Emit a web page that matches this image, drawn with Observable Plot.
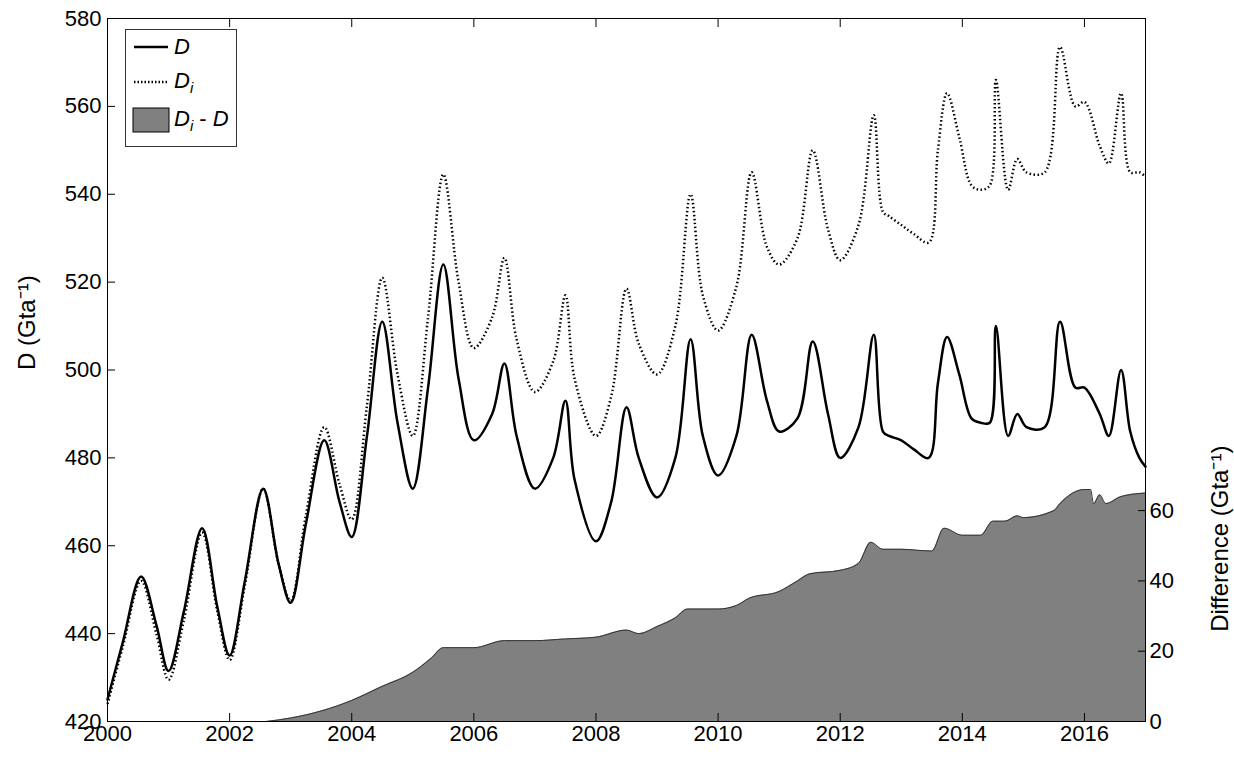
<!DOCTYPE html>
<html><head><meta charset="utf-8">
<script src="https://cdn.jsdelivr.net/npm/d3@7"></script>
<script src="https://cdn.jsdelivr.net/npm/@observablehq/plot@0.6"></script>
<style>
body{margin:0;background:#fff;font-family:"Liberation Sans",Arial,sans-serif}
#wrap{position:relative;width:1234px;height:764px}
#legend{position:absolute;left:125px;top:29px;width:110px;height:116px;border:1px solid #333;background:#fff;font-size:22px}
#legend .row{position:absolute;left:6px;display:flex;align-items:center}
</style></head><body>
<div id="wrap"><div id="chart"></div>
<div id="legend">
 <div class="row" style="top:4px"><svg width="38" height="20"><line x1="2" y1="10" x2="36" y2="10" stroke="#000" stroke-width="2.5"/></svg><i style="margin-left:4px">D</i></div>
 <div class="row" style="top:38px"><svg width="38" height="20"><line x1="2" y1="10" x2="36" y2="10" stroke="#000" stroke-width="2.5" stroke-dasharray="1.5,2"/></svg><i style="margin-left:4px">D<sub style="font-size:15px">i</sub></i></div>
 <div class="row" style="top:76px"><svg width="38" height="26"><rect x="1" y="1" width="36" height="24" fill="#808080" stroke="#000"/></svg><span style="margin-left:4px"><i>D<sub style="font-size:15px">i</sub></i> - <i>D</i></span></div>
</div></div>
<script>
const years = [2000,2000.25,2000.55,2000.8,2001,2001.25,2001.55,2001.8,2002,2002.25,2002.55,2002.8,2003,2003.25,2003.55,2003.8,2004,2004.25,2004.5,2004.75,2005,2005.25,2005.5,2005.75,2006,2006.3,2006.5,2006.7,2007,2007.3,2007.5,2007.65,2008,2008.25,2008.5,2008.7,2009,2009.3,2009.55,2009.75,2010,2010.3,2010.55,2010.8,2011,2011.3,2011.55,2011.8,2012,2012.3,2012.55,2012.7,2012.8,2013,2013.2,2013.45,2013.6,2013.75,2013.95,2014.15,2014.3,2014.45,2014.55,2014.75,2014.9,2015.05,2015.35,2015.6,2015.85,2016,2016.25,2016.4,2016.6,2016.75,2016.9,2017];
const dValues = [425,438,453,442,431.5,445,464,446,435,452,473,456,447,465,484,470,462,485,511,488,473,496,524,498,484,490,501.5,485,473,480,493,475,461,470,491.5,480,471,480,507,485,476,485,508,493,486,489,506.5,490,480,487,508,486,485,484,482,480,497,507.5,499,489,488,488,510,485,490,487,487,511,496,496,490,485,500,486,480,478];
const diValues = [424,437,452,440,429.5,443,463,445,434,451,473,456,447.5,467,487,474,466,492,521,499,485,512,544.5,520,505,512,525.5,507,495,502,517,498,485,494,518.5,506,499,510,540,517,509,519,545,528,524,530,550,532,525,533,558,536,535,533,531,529,550,563,553,542,541,542,566,541,548,545,545,573.5,560,561,551,547,563,545,545,544];
const diffYears = [2002.6,2003,2003.5,2004,2004.5,2005,2005.3,2005.5,2006,2006.5,2007,2007.5,2008,2008.5,2008.7,2009,2009.3,2009.5,2010,2010.3,2010.5,2011,2011.3,2011.5,2012,2012.3,2012.5,2012.7,2013,2013.5,2013.7,2014,2014.3,2014.5,2014.7,2014.9,2015,2015.5,2015.6,2016,2016.1,2016.15,2016.25,2016.35,2016.6,2017];
const diffValues = [0,1,3,6,10,14,18,21,21,23,23,23.5,24,26,25,27,29.5,32,32,33,35,37,40,42,43,45,51,49,49,48.5,55,53,53,57,57,58.5,58,60,62,66,66,62,64.5,62,64,65];
const xTicks = [2000,2002,2004,2006,2008,2010,2012,2014,2016];
const yTicks = [420,440,460,480,500,520,540,560,580];
const diffTicks = [0,20,40,60];

const toLeft = v => 420 + v * 0.8;
const series = years.map((t,i)=>({t, d:dValues[i], di:diValues[i]}));
const diff = diffYears.map((t,i)=>({t, v:toLeft(diffValues[i])}));

const chart = Plot.plot({
  width:1234, height:764,
  marginLeft:107, marginRight:89, marginTop:18, marginBottom:43,
  style:{fontFamily:"Liberation Sans, Arial, sans-serif", fontSize:"22px", color:"#000"},
  x:{domain:[2000,2017]},
  y:{domain:[420,580]},
  marks:[
    Plot.areaY(diff,{x:"t", y1:420, y2:"v", fill:"#808080", curve:"monotone-x"}),
    Plot.line(diff,{x:"t", y:"v", stroke:"#333", strokeWidth:1, curve:"monotone-x"}),
    Plot.line(series,{x:"t", y:"di", stroke:"#000", strokeWidth:2.5, strokeDasharray:"1.5,2.5", strokeLinecap:"butt", curve:"catmull-rom"}),
    Plot.line(series,{x:"t", y:"d", stroke:"#000", strokeWidth:2.5, curve:"catmull-rom"}),
    Plot.frame({stroke:"#000"}),
    Plot.axisX({ticks:xTicks, tickFormat:d=>String(d), tickSize:-8, tickPadding:12, label:null, fontSize:22}),
    Plot.axisX({ticks:xTicks, anchor:"top", tickSize:-8, tickFormat:()=>"" , label:null}),
    Plot.axisY({ticks:yTicks, tickSize:-8, tickPadding:14, label:null, fontSize:22}),
    Plot.axisY(diffTicks.map(toLeft),{anchor:"right", tickSize:-8, tickPadding:12, tickFormat:v=>String(Math.round((v-420)/0.8)), label:null, fontSize:22}),
    Plot.text(["D (Gta⁻¹)"],{frameAnchor:"left", dx:-80, rotate:-90, fontSize:24, fontStyle:"normal"}),
    Plot.text(["Difference (Gta⁻¹)"],{x:2017, y:toLeft(52), dx:75, rotate:-90, fontSize:24})
  ]
});
document.getElementById("chart").append(chart);
</script></body></html>
